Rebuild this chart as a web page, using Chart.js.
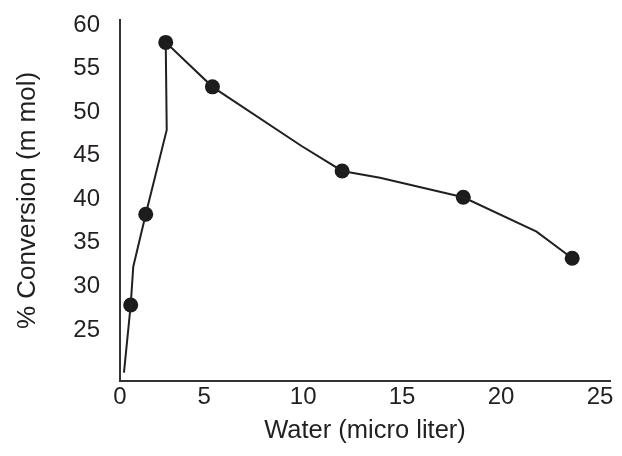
<!DOCTYPE html>
<html>
<head>
<meta charset="utf-8">
<script src="https://cdn.jsdelivr.net/npm/chart.js@4/dist/chart.umd.min.js"></script>
<style>
  html, body { margin: 0; padding: 0; background: #ffffff; }
  #c { display: block; }
</style>
</head>
<body>
<canvas id="c" width="622" height="456"></canvas>
<script>
// Measured data points (water, % conversion)
const waterPts = [1.29, 2.05, 3.06, 5.42, 11.97, 18.09, 23.59];
const convPts  = [27.87, 38.28, 58.0, 52.9, 43.25, 40.23, 33.23];

// Connecting curve as drawn in the figure (vertices)
const curveX = [0.95, 1.29, 1.42, 2.05, 3.11, 3.06, 5.42, 9.92, 11.97, 13.88, 18.09, 21.79, 23.59];
const curveY = [20.1, 27.87, 32.26, 38.28, 47.95, 58.0, 52.9, 46.11, 43.25, 42.48, 40.23, 36.28, 33.23];

// Axis ticks
const xTickVals   = [0.75, 5, 10, 15, 20, 25];
const xTickLabels = ['0', '5', '10', '15', '20', '25'];
const yTickVals   = [25, 30, 35, 40, 45, 50, 55, 60];
const yTickLabels = ['25', '30', '35', '40', '45', '50', '55', '60'];

const ink = '#231f20';
const fam = '"Liberation Sans", Arial, Helvetica, sans-serif';

const curveData = curveX.map((x, i) => ({ x: x, y: curveY[i] }));
const pointData = waterPts.map((x, i) => ({ x: x, y: convPts[i] }));

new Chart(document.getElementById('c'), {
  type: 'scatter',
  data: {
    datasets: [
      {
        data: curveData,
        showLine: true,
        tension: 0,
        borderColor: ink,
        borderWidth: 2,
        pointRadius: 0,
        pointHoverRadius: 0,
        fill: false
      },
      {
        data: pointData,
        showLine: false,
        pointRadius: 7.5,
        pointBackgroundColor: '#1c1c1c',
        pointBorderColor: '#1c1c1c',
        pointBorderWidth: 0
      }
    ]
  },
  options: {
    responsive: false,
    animation: false,
    devicePixelRatio: 1,
    layout: { padding: { left: 0, right: 12, top: 20, bottom: 0 } },
    plugins: {
      legend: { display: false },
      tooltip: { enabled: false },
      title: { display: false }
    },
    scales: {
      x: {
        type: 'linear',
        min: 0.75,
        max: 25.5,
        bounds: 'data',
        grid: { display: false, drawTicks: false },
        border: { display: true, color: '#333333', width: 2 },
        ticks: {
          color: ink,
          font: { family: fam, size: 24 },
          padding: 2,
          autoSkip: false,
          maxRotation: 0,
          callback: (v, i) => xTickLabels[i]
        },
        afterBuildTicks: (s) => { s.ticks = xTickVals.map(v => ({ value: v })); },
        afterFit: (s) => { s.height = 75; s.paddingLeft = 0; s.paddingRight = 0; },
        title: {
          display: true,
          text: 'Water (micro liter)',
          color: ink,
          font: { family: fam, size: 25.5 },
          padding: { top: 0, bottom: 10 }
        }
      },
      y: {
        type: 'linear',
        min: 19.15,
        max: 60.57,
        bounds: 'data',
        grid: { display: false, drawTicks: false },
        border: { display: true, color: '#333333', width: 2 },
        ticks: {
          color: ink,
          font: { family: fam, size: 24 },
          padding: 20,
          autoSkip: false,
          callback: (v, i) => yTickLabels[i]
        },
        afterBuildTicks: (s) => { s.ticks = yTickVals.map(v => ({ value: v })); },
        afterFit: (s) => { s.width = 120; s.paddingTop = 0; s.paddingBottom = 0; },
        title: {
          display: true,
          text: '% Conversion (m mol)',
          color: ink,
          font: { family: fam, size: 26 },
          padding: { top: 12, bottom: 0 }
        }
      }
    }
  }
});
</script>
</body>
</html>
